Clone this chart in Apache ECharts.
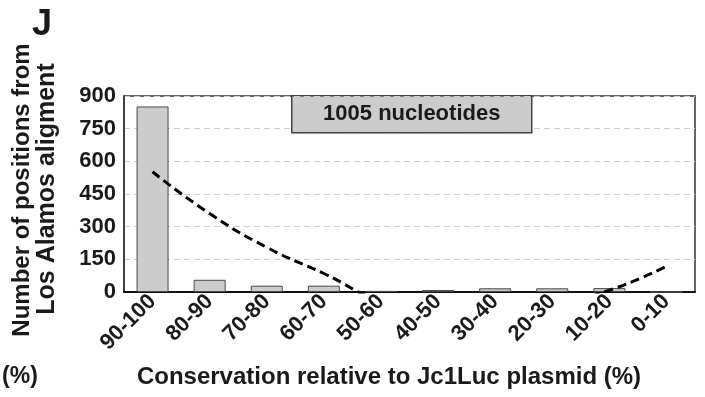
<!DOCTYPE html>
<html>
<head>
<meta charset="utf-8">
<script src="https://cdn.jsdelivr.net/npm/echarts@6/dist/echarts.min.js"></script>
<style>
  html, body { margin: 0; padding: 0; background: #fff; }
  #chart { width: 705px; height: 397px; }
</style>
</head>
<body>
<div id="chart"></div>
<script>
// Conservation bins (percent identity to Jc1Luc plasmid)
const categories = ['90-100', '80-90', '70-80', '60-70', '50-60', '40-50', '30-40', '20-30', '10-20', '0-10'];
// Number of positions in each bin
const positions = [852, 56, 29, 29, 5, 9, 17, 17, 18, 0];
// Polynomial trend line values at each bin (dips below zero between 50-60 and 20-30)
const trend = [552, 360, 205, 85, -40, -80, -85, -60, 8, 118];
// Y-axis ticks
const yTicks = [0, 150, 300, 450, 600, 750, 900];

const FONT = '"Liberation Sans", Arial, sans-serif';
const INK = '#1a1a1a';

const chart = echarts.init(document.getElementById('chart'), null, { renderer: 'canvas' });

const grid = { left: 124, right: 10, top: 96, bottom: 105 };

chart.setOption({
  animation: false,
  backgroundColor: '#ffffff',
  grid: Object.assign({ show: true, borderColor: '#333', borderWidth: 1.5, backgroundColor: 'transparent' }, grid),
  xAxis: {
    type: 'category',
    data: categories,
    axisLine: { show: true, lineStyle: { color: '#111', width: 2 } },
    axisTick: { show: false },
    axisLabel: {
      rotate: 45,
      margin: 6,
      interval: 0,
      color: INK,
      fontFamily: FONT,
      fontWeight: 'bold',
      fontSize: 22
    },
    splitLine: { show: false }
  },
  yAxis: {
    type: 'value',
    min: yTicks[0],
    max: yTicks[yTicks.length - 1],
    interval: yTicks[1] - yTicks[0],
    axisLine: { show: true, lineStyle: { color: '#333', width: 1.5 } },
    axisTick: { show: false },
    axisLabel: {
      margin: 8,
      color: INK,
      fontFamily: FONT,
      fontWeight: 'bold',
      fontSize: 22
    },
    splitLine: { show: true, lineStyle: { color: '#cfcfcf', type: [6, 4], width: 1 } }
  },
  series: [
    {
      type: 'bar',
      data: positions,
      barWidth: 32,
      itemStyle: { color: '#cccccc', borderColor: '#4a4a4a', borderWidth: 1 },
      z: 2
    },
    {
      type: 'line',
      data: trend,
      smooth: 0.5,
      clip: true,
      symbol: 'none',
      lineStyle: { color: '#000', width: 3, type: [9, 5] },
      z: 3
    }
  ],
  graphic: [
    {
      type: 'text',
      left: 32, top: 7,
      style: { text: 'J', font: 'bold 36px ' + FONT, fill: INK }
    },
    {
      type: 'text',
      x: 22, y: 190,
      rotation: Math.PI / 2,
      style: {
        text: 'Number of positions from',
        font: 'bold 24px ' + FONT, fill: INK,
        textAlign: 'center', textVerticalAlign: 'middle'
      }
    },
    {
      type: 'text',
      x: 47, y: 189,
      rotation: Math.PI / 2,
      style: {
        text: 'Los Alamos aligment',
        font: 'bold 25px ' + FONT, fill: INK,
        textAlign: 'center', textVerticalAlign: 'middle'
      }
    },
    {
      type: 'text',
      x: 20, y: 377,
      style: {
        text: '(%)',
        font: 'bold 23px ' + FONT, fill: INK,
        textAlign: 'center', textVerticalAlign: 'middle'
      }
    },
    {
      type: 'text',
      x: 389, y: 377,
      style: {
        text: 'Conservation relative to Jc1Luc plasmid (%)',
        font: 'bold 24px ' + FONT, fill: INK,
        textAlign: 'center', textVerticalAlign: 'middle'
      }
    },
    {
      type: 'group',
      left: 291, top: 95,
      z: 10,
      children: [
        {
          type: 'rect',
          shape: { x: 0, y: 0, width: 240, height: 37 },
          style: { fill: '#cccccc', stroke: '#444', lineWidth: 1.5 }
        },
        {
          type: 'text',
          x: 120, y: 18.5,
          style: {
            text: '1005 nucleotides',
            font: 'bold 22px ' + FONT, fill: INK,
            textAlign: 'center', textVerticalAlign: 'middle'
          }
        }
      ]
    }
  ]
});
</script>
</body>
</html>
